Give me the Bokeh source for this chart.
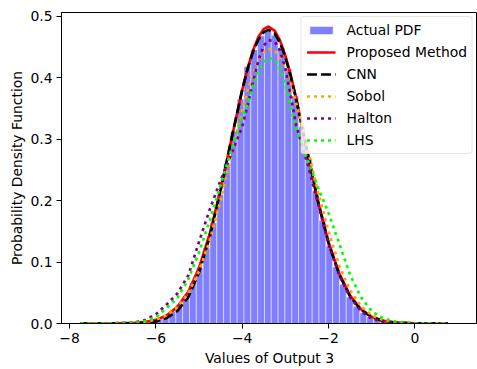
import numpy as np
from bokeh.plotting import figure
from bokeh.models import FixedTicker, Legend, LegendItem, NumeralTickFormatter
from bokeh.embed import file_html
from bokeh.resources import INLINE

# Density histogram of Output 3 (equal-width bins between the sample extremes)
hist_start = -7.75
hist_stop = 0.782
hist_density = [0.0, 0.0, 0.0, 0.0, 0.0001, 0.0002, 0.0003, 0.0006, 0.0012, 0.0024,
                0.0045, 0.0075, 0.0125, 0.0200, 0.0300, 0.0455, 0.0660, 0.0905, 0.1230, 0.1640,
                0.2100, 0.2600, 0.3120, 0.3650, 0.4180, 0.4450, 0.4680, 0.4760, 0.4690, 0.4480,
                0.4140, 0.3700, 0.3200, 0.2680, 0.2150, 0.1680, 0.1260, 0.0920, 0.0640, 0.0430,
                0.0280, 0.0175, 0.0105, 0.0060, 0.0033, 0.0018, 0.0009, 0.0004, 0.0002, 0.0001,
                0.0001, 0.0, 0.0, 0.0]

# Estimated densities of each method on a shared evaluation grid
grid_x = [-7.75, -7.0, -6.5, -6.25, -6.0, -5.75, -5.5, -5.25, -5.0, -4.75, -4.5, -4.25,
          -4.0, -3.875, -3.75, -3.625, -3.5, -3.39, -3.25, -3.125, -3.0, -2.875, -2.75,
          -2.5, -2.25, -2.0, -1.75, -1.5, -1.25, -1.0, -0.75, -0.5, 0.0, 0.77]
pdf_proposed = [0.0, 0.0001, 0.0009, 0.0025, 0.0059, 0.0132, 0.0272, 0.0517, 0.0906, 0.1464,
                0.2180, 0.2996, 0.3798, 0.4149, 0.4442, 0.4661, 0.4792, 0.4830, 0.4766, 0.4606,
                0.4358, 0.4037, 0.3662, 0.2827, 0.2006, 0.1320, 0.0810, 0.0455, 0.0235, 0.0110,
                0.0047, 0.0018, 0.0002, 0.0]
pdf_cnn = [0.0, 0.0, 0.0004, 0.0012, 0.0035, 0.0090, 0.0205, 0.0430, 0.0830, 0.1420,
           0.2170, 0.3000, 0.3800, 0.4140, 0.4420, 0.4620, 0.4740, 0.4780, 0.4720, 0.4570,
           0.4330, 0.4020, 0.3650, 0.2820, 0.2000, 0.1310, 0.0795, 0.0440, 0.0225, 0.0105,
           0.0045, 0.0017, 0.0002, 0.0]
pdf_sobol = [0.0, 0.0001, 0.0010, 0.0026, 0.0061, 0.0131, 0.0265, 0.0493, 0.0850, 0.1356,
             0.2004, 0.2741, 0.3471, 0.3795, 0.4070, 0.4281, 0.4416, 0.4468, 0.4438, 0.4327,
             0.4140, 0.3890, 0.3588, 0.2888, 0.2159, 0.1499, 0.0940, 0.0540, 0.0285, 0.0135,
             0.0060, 0.0025, 0.0004, 0.0]
pdf_halton = [0.0, 0.0003, 0.0017, 0.0055, 0.0150, 0.0310, 0.0490, 0.0780, 0.1330, 0.1860,
              0.2330, 0.2760, 0.3200, 0.3550, 0.3930, 0.4280, 0.4520, 0.4610, 0.4590, 0.4440,
              0.4150, 0.3700, 0.3220, 0.2640, 0.1970, 0.1290, 0.0780, 0.0430, 0.0200, 0.0080,
              0.0030, 0.0010, 0.0001, 0.0]
pdf_lhs = [0.0, 0.0002, 0.0015, 0.0040, 0.0105, 0.0250, 0.0420, 0.0720, 0.1160, 0.1680,
           0.2250, 0.2830, 0.3350, 0.3570, 0.3850, 0.4080, 0.4250, 0.4320, 0.4300, 0.4150,
           0.3880, 0.3520, 0.3160, 0.2700, 0.2220, 0.1800, 0.1300, 0.0790, 0.0430, 0.0200,
           0.0090, 0.0035, 0.0004, 0.0]

x_ticks = [-8, -6, -4, -2, 0]
x_tick_labels = ["\u22128", "\u22126", "\u22124", "\u22122", "0"]
y_ticks = [0.0, 0.1, 0.2, 0.3, 0.4, 0.5]

FONT = "DejaVu Sans"
FS = "13.9px"

edges = np.linspace(hist_start, hist_stop, len(hist_density) + 1)

p = figure(width=477, height=369, x_range=(-8.188, 1.453), y_range=(0, 0.5059),
           output_backend="svg", toolbar_location=None,
           min_border_left=61, min_border_right=0, min_border_top=12, min_border_bottom=46)
p.xgrid.visible = False
p.ygrid.visible = False
p.outline_line_color = "black"
p.outline_line_width = 1
p.background_fill_color = "white"
p.border_fill_color = "white"

hist = p.quad(left=edges[:-1], right=edges[1:], bottom=0, top=hist_density,
              fill_color="blue", fill_alpha=0.5, line_color="white", line_alpha=0.5,
              line_width=1)

lw = 2.7
r_prop = p.line(grid_x, pdf_proposed, line_color="red", line_width=lw)
r_cnn = p.line(grid_x, pdf_cnn, line_color="black", line_width=lw, line_dash="10 4")
r_sob = p.line(grid_x, pdf_sobol, line_color="orange", line_width=lw, line_dash="3 4")
r_hal = p.line(grid_x, pdf_halton, line_color="purple", line_width=lw, line_dash="3 4")
r_lhs = p.line(grid_x, pdf_lhs, line_color="lime", line_width=lw, line_dash="3 4")

legend = Legend(items=[
    LegendItem(label="Actual PDF", renderers=[hist]),
    LegendItem(label="Proposed Method", renderers=[r_prop]),
    LegendItem(label="CNN", renderers=[r_cnn]),
    LegendItem(label="Sobol", renderers=[r_sob]),
    LegendItem(label="Halton", renderers=[r_hal]),
    LegendItem(label="LHS", renderers=[r_lhs]),
], location="top_right")
legend.label_text_font = FONT
legend.label_text_font_size = FS
legend.label_text_color = "black"
legend.glyph_width = 29
legend.glyph_height = 10
legend.label_height = 16
legend.label_standoff = 11
legend.spacing = 6
legend.padding = 5
legend.margin = 4
legend.background_fill_alpha = 0.8
legend.border_line_color = "#cccccc"
legend.border_line_width = 1
if "border_radius" in Legend.properties():
    legend.border_radius = 3
p.add_layout(legend)

p.xaxis.ticker = FixedTicker(ticks=x_ticks)
p.xaxis.major_label_overrides = dict(zip(x_ticks, x_tick_labels))
p.yaxis.ticker = FixedTicker(ticks=y_ticks)
p.yaxis.formatter = NumeralTickFormatter(format="0.0")

for ax in (p.xaxis, p.yaxis):
    ax.axis_line_color = "black"
    ax.axis_line_width = 1
    ax.major_tick_line_color = "black"
    ax.major_tick_in = 0
    ax.major_tick_out = 5
    ax.minor_tick_line_color = None
    ax.major_label_text_font = FONT
    ax.major_label_text_font_size = FS
    ax.major_label_text_color = "black"
    ax.axis_label_text_font = FONT
    ax.axis_label_text_font_size = FS
    ax.axis_label_text_font_style = "normal"
    ax.axis_label_text_color = "black"

p.xaxis.axis_label = "Values of Output 3"
p.yaxis.axis_label = "Probability Density Function"
p.xaxis.major_label_standoff = 4
p.xaxis.axis_label_standoff = 4
p.yaxis.major_label_standoff = 4
p.yaxis.axis_label_standoff = 2

open("out.html", "w").write(file_html(p, INLINE))
